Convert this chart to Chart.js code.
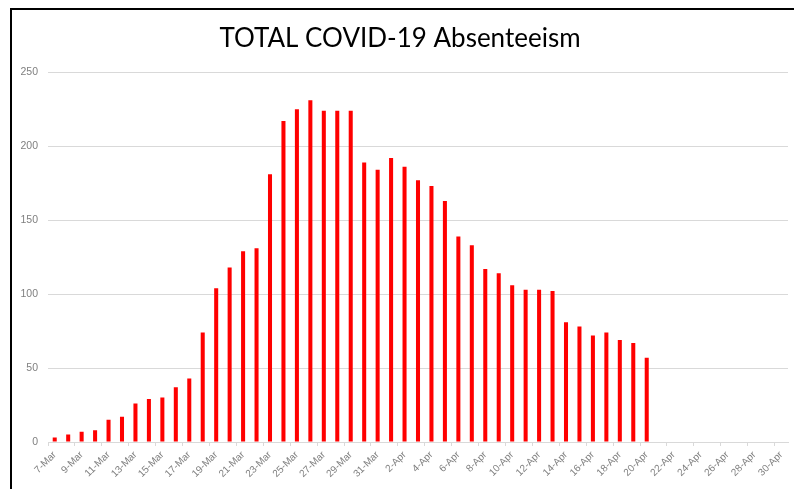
<!DOCTYPE html>
<html>
<head>
<meta charset="utf-8">
<script src="https://cdn.jsdelivr.net/npm/chart.js@4"></script>
<style>
  html, body { margin: 0; padding: 0; background: #fff; }
  #wrap { position: relative; width: 794px; height: 489px; overflow: hidden; }
  #frame { position: absolute; left: 10px; top: 8px; width: 900px; height: 600px;
           border-left: 2px solid #000; border-top: 2px solid #000; }
  #chart { position: absolute; left: 0; top: 0; }
</style>
</head>
<body>
<div id="wrap">
  <div id="frame"></div>
  <canvas id="chart" width="794" height="489"></canvas>
</div>
<script>
  // 7-Mar .. 30-Apr, one slot per day
  const marDays = Array.from({ length: 25 }, (_, i) => `${i + 7}-Mar`);
  const aprDays = Array.from({ length: 30 }, (_, i) => `${i + 1}-Apr`);
  const categories = marDays.concat(aprDays);

  // daily totals (7-Mar .. 20-Apr), nothing after that
  const absentees = [
    3, 5, 7, 8, 15, 17, 26, 29, 30, 37,
    43, 74, 104, 118, 129, 131, 181, 217, 225, 231,
    224, 224, 224, 189, 184, 192, 186, 177, 173, 163,
    139, 133, 117, 114, 106, 103, 103, 102, 81, 78,
    72, 74, 69, 67, 57
  ];

  const yTicks = [0, 50, 100, 150, 200, 250];

  const gridGrey = '#d9d9d9';
  const labelGrey = '#7f7f7f';

  new Chart(document.getElementById('chart'), {
    type: 'bar',
    data: {
      labels: categories,
      datasets: [{
        label: 'Absenteeism',
        data: absentees,
        backgroundColor: '#ff0000',
        borderWidth: 0,
        categoryPercentage: 1,
        barPercentage: 0.3
      }]
    },
    options: {
      responsive: false,
      animation: false,
      layout: { padding: { left: 12, right: 6, top: 0, bottom: 0 } },
      plugins: {
        legend: { display: false },
        tooltip: { enabled: false },
        title: {
          display: true,
          text: 'TOTAL COVID-19 Absenteeism',
          color: '#000',
          font: { family: 'Lato', size: 26, weight: 'normal' },
          padding: { top: 23, bottom: 18 }
        }
      },
      scales: {
        x: {
          offset: true,
          afterFit: (scale) => { scale.height = 47; },
          grid: {
            offset: true,
            drawOnChartArea: false,
            drawTicks: true,
            tickLength: 4,
            color: (ctx) => (ctx.index % 2 === 0 ? gridGrey : 'rgba(0,0,0,0)')
          },
          border: { color: gridGrey, width: 1 },
          ticks: {
            autoSkip: false,
            minRotation: 45,
            maxRotation: 45,
            padding: 3,
            color: labelGrey,
            font: { family: 'Liberation Sans', size: 10 },
            callback: (val, i) => (i % 2 === 0 ? categories[i] : '')
          }
        },
        y: {
          min: 0,
          max: 250,
          afterBuildTicks: (scale) => { scale.ticks = yTicks.map((v) => ({ value: v })); },
          afterFit: (scale) => { scale.width = 36; },
          grid: { color: gridGrey, drawTicks: false },
          border: { display: false },
          ticks: {
            padding: 10,
            color: labelGrey,
            font: { family: 'Liberation Sans', size: 10.5 }
          }
        }
      }
    }
  });
</script>
</body>
</html>
